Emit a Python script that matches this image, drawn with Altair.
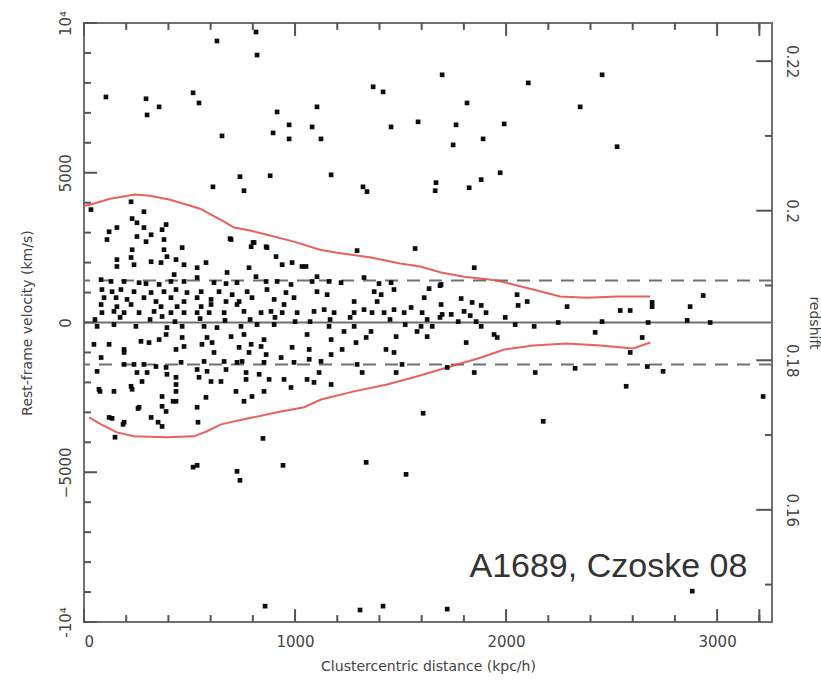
import altair as alt
import pandas as pd

# ---- galaxies: clustercentric distance (kpc/h) and rest-frame velocity (km/s)
gal_pairs = [
    # outliers / sparse
    (815,9700),(630,9400),(820,8930),(104,7530),(294,7470),(356,7200),(299,6930),(517,7670),(545,7330),
    (915,7030),(1104,7200),(1370,7870),(1417,7700),(972,6600),(896,6330),(972,6130),(1081,6530),(1123,6130),
    (654,6230),(1455,6530),(1583,6700),(611,4530),(739,4870),(758,4400),(882,4900),(1171,4930),(1322,4530),
    (1341,4370),(1294,2400),(1569,2470),(692,2800),(801,2670),(867,2500),
    (1697,8270),(2105,8000),(2455,8270),(1815,7330),(2351,7200),(1763,6600),(1991,6630),(1891,6130),(1749,5930),
    (2526,5870),(1668,4670),(1664,4400),(1825,4500),(1882,4770),(1972,5000),(1849,1830),(1687,1230),(2934,900),
    (2052,930),(2057,570),(2100,700),(2289,530),(2541,400),(2588,400),(2692,670),(2692,530),(2872,530),(2858,70),
    (2967,0),(2133,-130),(2422,-330),(2247,0),(2455,30),(2673,0),(2645,-500),
    (147,-3830),(848,-3870),(517,-4830),(536,-4770),(725,-4970),(739,-5270),(943,-4770),(1337,-4670),(1526,-5070),
    (858,-9470),(1308,-9600),(1417,-9470),(185,-3400),(133,-3200),(351,-3330),(540,-3330),(256,-2870),(422,-2630),
    (76,-2300),(1607,-3030),(2176,-3300),(2569,-2130),(3218,-2470),(2882,-8970),(1721,-9570),(2138,-1670),
    (2327,-1530),(1849,-1670),(2669,-1470),(2744,-1630),(2588,-1000),(1721,-1500),
    # dense core, upper half
    (223,4030),(33,3770),(284,3700),(228,3470),(251,3330),(389,3270),(156,3170),(119,3030),(284,3170),(370,3100),
    (251,2870),(318,2930),(109,2770),(379,2770),(294,2700),(465,2500),(228,2430),(379,2430),(223,2170),(156,2100),
    (318,2030),(393,2200),(436,2100),(365,2000),(237,1930),(156,1870),(474,1930),(427,1600),(81,1430),(128,1370),
    (190,1370),(261,1330),(294,1300),(356,1270),(412,1370),(474,1370),(85,1100),(133,1030),(175,1100),(237,1030),
    (318,1000),(379,1030),(436,1100),(488,1000),(95,830),(152,830),(204,770),(284,830),(341,700),(412,830),
    (474,700),(81,600),(156,530),(223,600),(365,530),(441,530),(85,330),(142,370),(190,330),(261,330),(332,370),
    (412,330),(474,330),(370,200),
    (697,2770),(806,2670),(792,2530),(863,2530),(910,2200),(939,1930),(986,2000),(1033,1870),(578,2000),(536,1830),
    (782,1830),(678,1670),(815,1530),(536,1500),(616,1330),(673,1300),(725,1330),(863,1370),(915,1370),(981,1270),
    (555,1030),(640,1030),(702,930),(773,1030),(867,1100),(957,1000),(536,830),(602,770),(673,700),(735,700),
    (796,830),(901,770),(995,830),(555,530),(602,600),(725,600),(948,600),(536,330),(593,330),(664,330),(758,370),
    (839,330),(886,370),(939,330),(1010,330),
    (1052,1870),(1104,1530),(1161,1370),(1218,1330),(1327,1500),(1398,1300),(1455,1330),(1081,1370),(1104,1030),
    (1152,930),(1375,1030),(1408,930),(1469,1100),(1280,700),(1389,700),(1090,370),(1138,430),(1185,330),
    (1280,330),(1327,430),(1365,330),(1422,330),(1469,430),(1517,330),(1550,500),
    (1692,1270),(1635,1130),(1612,830),(1692,600),(1787,800),(1839,670),(1882,570),(1801,370),(1905,330),
    (1602,330),(1740,270),(1697,270),
    # near zero
    (1071,30),(1166,100),(1261,170),(1450,100),(1522,-70),(1626,100),(1687,170),(1773,30),(1830,230),(1996,170),
    (2043,-70),(52,100),(171,170),(313,100),(431,30),(550,130),(668,70),(787,100),(905,170),(1000,30),
    # dense core, lower half
    (62,-130),(142,-70),(246,-130),(393,-170),(465,-130),(270,-630),(308,-670),(389,-400),(356,-570),(465,-500),
    (47,-730),(119,-730),(190,-900),(190,-1000),(436,-900),(474,-800),(81,-1170),(190,-1400),(237,-1400),
    (284,-1400),(341,-1470),(389,-1500),(460,-1330),(62,-1630),(251,-1670),(299,-1670),(393,-1730),(436,-1830),
    (275,-1970),(71,-2230),(142,-2300),(223,-2130),(228,-2230),(436,-2070),(436,-2300),(370,-2470),(436,-2630),
    (261,-2830),(370,-2800),(389,-2970),(119,-3170),(190,-3330),(318,-3170),(370,-3470),
    (569,-130),(630,-170),(744,-130),(820,-70),(901,-70),(583,-500),(697,-470),(758,-400),(853,-570),(559,-730),
    (607,-670),(792,-730),(839,-800),(735,-830),(782,-1000),(863,-1070),(986,-830),(616,-1000),(569,-1300),
    (664,-1300),(725,-1330),(749,-1300),(853,-1330),(934,-1170),(995,-1330),(536,-1570),(583,-1630),(673,-1570),
    (768,-1670),(830,-1730),(877,-1900),(545,-1830),(602,-1970),(649,-1970),(768,-1900),(948,-1900),(981,-2170),
    (720,-2300),(578,-2500),(796,-2470),(853,-2300),(758,-2630),(536,-2830),
    (1057,-400),(1161,-130),(1232,-300),(1280,-130),(1337,-500),(1289,-670),(1360,-300),(1479,-470),(1171,-570),
    (1067,-900),(1223,-900),(1431,-900),(1469,-1000),(1067,-1230),(1123,-1300),(1171,-1070),(1294,-1400),
    (1507,-1400),(1114,-1670),(1318,-1670),(1479,-1670),(1057,-1900),(1090,-2000),(1171,-2070),
    (1597,-130),(1650,-130),(1626,-470),(1578,-300),(1882,-130),(1858,30),(1943,-400),(1958,-500),(1811,-670),
]
gal_dist = [p[0] for p in gal_pairs]
gal_vel = [p[1] for p in gal_pairs]

# ---- caustics (red)
caustic_up_dist = [0, 28, 123, 242, 313, 408, 488, 550, 611, 664, 711, 787, 867, 995, 1118, 1199, 1360, 1498,
                   1593, 1692, 1801, 1958, 2071, 2128, 2256, 2384, 2526, 2683]
caustic_up_vel = [3900, 3930, 4130, 4270, 4230, 4100, 3930, 3800, 3570, 3370, 3170, 3070, 2930, 2700, 2430, 2330,
                  2170, 1970, 1870, 1670, 1530, 1400, 1200, 1100, 870, 830, 870, 870]
caustic_lo_dist = [24, 81, 156, 237, 393, 521, 583, 649, 758, 915, 1043, 1123, 1280, 1436, 1564, 1721, 1882, 1991,
                   2128, 2289, 2446, 2602, 2683]
caustic_lo_vel = [-3170, -3400, -3670, -3800, -3830, -3800, -3630, -3400, -3230, -3000, -2830, -2570, -2300, -2070,
                  -1830, -1500, -1170, -900, -770, -700, -770, -870, -670]

# ---- reference lines
zero_line = [0]
dispersion_lines = [1400, -1400]

# ---- axes
x_major = [0, 1000, 2000, 3000]
x_minor = [200, 400, 600, 800, 1200, 1400, 1600, 1800, 2200, 2400, 2600, 2800, 3200]
v_major = [-10000, -5000, 0, 5000, 10000]
v_minor = [-9000, -8000, -7000, -6000, -4000, -3000, -2000, -1000,
           1000, 2000, 3000, 4000, 6000, 7000, 8000, 9000]
z_major = [0.16, 0.18, 0.20, 0.22]
z_minor = [0.15, 0.17, 0.19, 0.21]
x_domain = [0, 3260]
v_domain = [-10000, 10000]
z_domain = [0.1450, 0.2251]

label_text = ["A1689, Czoske 08"]
label_x = [3143]
label_y = [-8500]

W, H = 688, 599
GREY = "#707070"
TICK = "#555555"
TXT = "#444444"
FONT = "DejaVu Sans"

# tick lengths expressed in data units of the perpendicular axis
TX_MAJ, TX_MIN, TX_Z = 62, 33, 75        # kpc/h  (~13, 7, 16 px)
TV_MAJ, TV_MIN = 430, 230                # km/s   (~13, 7 px)

gal = pd.DataFrame({"dist": gal_dist, "vel": gal_vel})
caus = pd.DataFrame({
    "dist": caustic_up_dist + caustic_lo_dist,
    "vel": caustic_up_vel + caustic_lo_vel,
    "branch": ["upper"] * len(caustic_up_dist) + ["lower"] * len(caustic_lo_dist),
})

xs = alt.Scale(domain=x_domain, nice=False, zero=False)
ys = alt.Scale(domain=v_domain, nice=False, zero=False)
zs = alt.Scale(domain=z_domain, nice=False, zero=False)

axis_style = dict(domain=False, grid=False, ticks=False, labelFont=FONT, labelFontSize=15, labelColor=TXT,
                  titleFont=FONT, titleFontSize=14, titleColor=TXT, titleFontWeight="normal")

points = alt.Chart(gal).mark_square(size=22, color="black", opacity=0.95).encode(
    x=alt.X("dist:Q", scale=xs, axis=alt.Axis(
        orient="bottom", values=x_major, title="Clustercentric distance (kpc/h)",
        format="d", labelPadding=12, titlePadding=10, **axis_style)),
    y=alt.Y("vel:Q", scale=ys, axis=alt.Axis(
        orient="left", values=v_major, title="Rest-frame velocity (km/s)",
        labelExpr="datum.value === 10000 ? '10⁴' : datum.value === -10000 ? '-10⁴' : format(datum.value, 'd')",
        labelAngle=270, labelAlign="center", labelBaseline="bottom",
        labelPadding=11, titlePadding=24, **axis_style)),
)

caustics = alt.Chart(caus).mark_line(color="#e8453c", strokeWidth=2, opacity=0.85).encode(
    x=alt.X("dist:Q", scale=xs, axis=None),
    y=alt.Y("vel:Q", scale=ys, axis=None),
    detail="branch:N",
)

zero_rule = alt.Chart(pd.DataFrame({"v": zero_line})).mark_rule(color=GREY, strokeWidth=2).encode(
    y=alt.Y("v:Q", scale=ys, axis=None))

disp_rule = alt.Chart(pd.DataFrame({"v": dispersion_lines})).mark_rule(
    color=GREY, strokeWidth=2, strokeDash=[13, 9]).encode(
    y=alt.Y("v:Q", scale=ys, axis=None))

label = alt.Chart(pd.DataFrame({"t": label_text, "x": label_x, "y": label_y})).mark_text(
    align="right", baseline="alphabetic", font="Liberation Sans", fontSize=34, color="#333333").encode(
    x=alt.X("x:Q", scale=xs, axis=None), y=alt.Y("y:Q", scale=ys, axis=None), text="t:N")

redshift = alt.Chart(pd.DataFrame({"z": z_major})).mark_point(opacity=0).encode(
    y=alt.Y("z:Q", scale=zs, axis=alt.Axis(
        orient="right", values=z_major, title="redshift", format="~g",
        labelAngle=90, labelAlign="center", labelBaseline="bottom",
        labelPadding=11, titlePadding=8, titleAngle=90, **axis_style)),
)

# inward tick marks on all four sides
tick_layers = []
x0, x1 = x_domain
v0, v1 = v_domain
for vals, ln in ((v_major, TX_MAJ), (v_minor, TX_MIN)):
    d = pd.DataFrame({"v": vals, "a": [x0] * len(vals), "b": [x0 + ln] * len(vals)})
    tick_layers.append(alt.Chart(d).mark_rule(color=TICK, strokeWidth=2).encode(
        y=alt.Y("v:Q", scale=ys, axis=None), x=alt.X("a:Q", scale=xs, axis=None), x2="b:Q"))
for vals, ln in ((x_major + [3200], TV_MAJ), (x_minor, TV_MIN)):
    d = pd.DataFrame({"d": vals, "a": [v0] * len(vals), "b": [v0 + ln] * len(vals),
                      "c": [v1] * len(vals), "e": [v1 - ln] * len(vals)})
    tick_layers.append(alt.Chart(d).mark_rule(color=TICK, strokeWidth=2).encode(
        x=alt.X("d:Q", scale=xs, axis=None), y=alt.Y("a:Q", scale=ys, axis=None), y2="b:Q"))
    tick_layers.append(alt.Chart(d).mark_rule(color=TICK, strokeWidth=2).encode(
        x=alt.X("d:Q", scale=xs, axis=None), y=alt.Y("c:Q", scale=ys, axis=None), y2="e:Q"))
for vals, ln in ((z_major, TX_Z), (z_minor, TX_MIN)):
    d = pd.DataFrame({"z": vals, "c": [x1] * len(vals), "e": [x1 - ln] * len(vals)})
    tick_layers.append(alt.Chart(d).mark_rule(color=TICK, strokeWidth=2).encode(
        y=alt.Y("z:Q", scale=zs, axis=None), x=alt.X("c:Q", scale=xs, axis=None), x2="e:Q"))

chart = alt.layer(zero_rule, disp_rule, *tick_layers, caustics, points, label, redshift).resolve_scale(
    y="independent").resolve_axis(x="independent", y="independent").properties(
    width=W, height=H,
    autosize=alt.AutoSizeParams(type="none"),
    padding={"left": 84, "top": 23, "right": 49, "bottom": 72},
    background="white",
).configure_view(stroke=GREY, strokeWidth=2)

chart.save("out.html", embed_options={"renderer": "svg", "actions": False})
